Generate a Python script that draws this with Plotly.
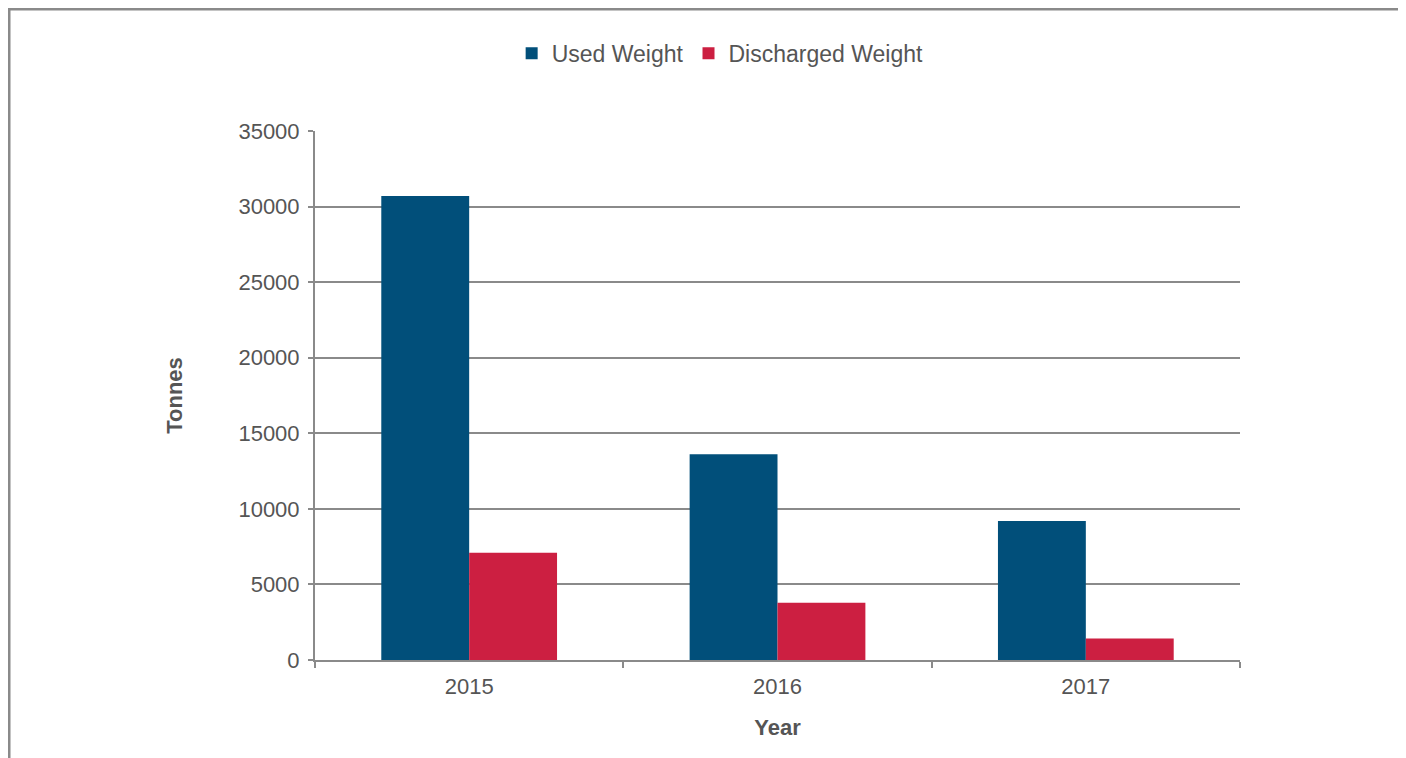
import plotly.graph_objects as go

years = ["2015", "2016", "2017"]
used_weight = [30700, 13620, 9200]
discharged_weight = [7090, 3790, 1420]
y_ticks = [0, 5000, 10000, 15000, 20000, 25000, 30000, 35000]

BLUE = "#014f7a"
RED = "#cc1f41"
GREY = "#8a8a8a"
TEXT = "#555555"
FONT = "Liberation Sans, Arial, sans-serif"

fig = go.Figure()
fig.add_trace(go.Bar(x=years, y=used_weight, name="Used Weight",
                     marker=dict(color=BLUE, line=dict(width=0))))
fig.add_trace(go.Bar(x=years, y=discharged_weight, name="Discharged Weight",
                     marker=dict(color=RED, line=dict(width=0))))

# page body has an 8px margin, so the figure is 8px smaller than the window
fig.update_layout(
    width=1398, height=750,
    margin=dict(l=307, r=166, t=123, b=98),
    paper_bgcolor="white", plot_bgcolor="white",
    font=dict(family=FONT, size=22, color=TEXT),
    barmode="group", bargap=0.43, bargroupgap=0,
    showlegend=True,
    legend=dict(orientation="h", x=0.438, xanchor="center", y=1.147, yanchor="middle",
                font=dict(size=23, color=TEXT), itemwidth=30, traceorder="normal"),
    xaxis=dict(
        type="category",
        title=dict(text="<b>Year</b>", font=dict(size=22, color=TEXT), standoff=21),
        showline=True, linecolor=GREY, linewidth=2,
        ticks="outside", tickson="boundaries", ticklen=6, tickcolor=GREY, tickwidth=2,
        ticklabelstandoff=6,
        showgrid=False,
    ),
    yaxis=dict(
        range=[0, 35000], tickvals=y_ticks, tickformat="d",
        title=dict(text="<b>Tonnes</b>", font=dict(size=22, color=TEXT), standoff=50),
        showline=True, linecolor=GREY, linewidth=2,
        ticks="outside", ticklen=5, tickcolor=GREY, tickwidth=2,
        ticklabelstandoff=4,
        showgrid=True, gridcolor=GREY, gridwidth=2,
        zeroline=False,
    ),
    # outer frame of the figure, open at the bottom
    shapes=[dict(type="rect", xref="paper", yref="paper",
                 x0=-0.3308, x1=1.1762, y0=-0.25, y1=1.2306,
                 line=dict(color=GREY, width=3), layer="below")],
)

fig.write_html("out.html")
